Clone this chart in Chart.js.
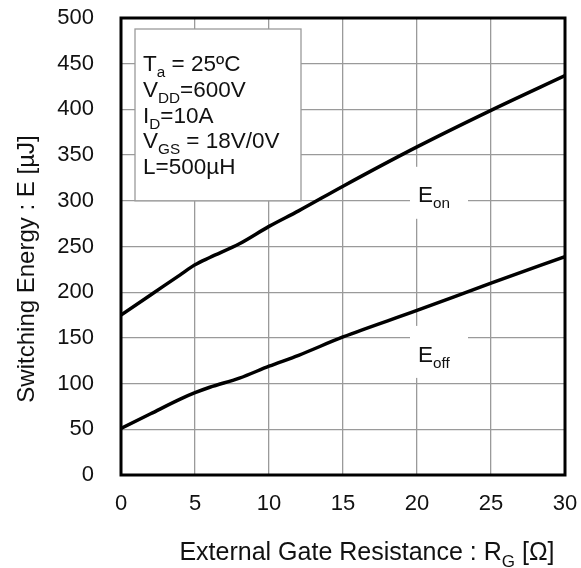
<!DOCTYPE html>
<html>
<head>
<meta charset="utf-8">
<script src="https://cdn.jsdelivr.net/npm/chart.js@4/dist/chart.umd.min.js"></script>
<style>
  body { margin: 0; background: #fff; }
  canvas { display: block; }
</style>
</head>
<body>
<canvas id="myChart" width="581" height="568"></canvas>
<script>
// gate resistance [ohm] and switching energies [uJ]
const rg = [0, 2, 4, 5, 6, 8, 10, 12, 15, 20, 25, 30];
const eOn = [175, 197, 219, 230, 238, 253, 272, 289, 316, 359, 399, 437];
const eOff = [51, 67, 83, 90, 96, 106, 119, 131, 151, 180, 210, 239];

const xTicks = [0, 5, 10, 15, 20, 25, 30];
const yTicks = [0, 50, 100, 150, 200, 250, 300, 350, 400, 450, 500];

const FONT = "'Liberation Sans', Arial, sans-serif";
const GRID = "#9a9a9a";

// text made of [string, isSubscript] parts
function richWidth(ctx, parts, size) {
    let w = 0;
    parts.forEach(p => {
        ctx.font = (p[1] ? size * 0.68 : size) + "px " + FONT;
        w += ctx.measureText(p[0]).width;
    });
    return w;
}

function drawRich(ctx, parts, x, y, size) {
    ctx.textAlign = "left";
    ctx.textBaseline = "alphabetic";
    parts.forEach(p => {
        ctx.font = (p[1] ? size * 0.68 : size) + "px " + FONT;
        ctx.fillText(p[0], x, p[1] ? y + size * 0.27 : y);
        x += ctx.measureText(p[0]).width;
    });
}

const conditions = [
    [["T", 0], ["a", 1], [" = 25ºC", 0]],
    [["V", 0], ["DD", 1], ["=600V", 0]],
    [["I", 0], ["D", 1], ["=10A", 0]],
    [["V", 0], ["GS", 1], [" = 18V/0V", 0]],
    [["L=500µH", 0]]
];

const decorPlugin = {
    id: "decor",
    beforeDatasetsDraw(chart) {
        const ctx = chart.ctx;
        const xs = chart.scales.x;
        const ys = chart.scales.y;
        ctx.save();

        // conditions box
        const bx = chart.chartArea.left + 14, by = chart.chartArea.top + 11;
        const bw = 166, bh = ys.getPixelForValue(300) - by;
        ctx.fillStyle = "#fff";
        ctx.fillRect(bx, by, bw, bh);
        ctx.strokeStyle = GRID;
        ctx.lineWidth = 1.3;
        ctx.strokeRect(bx, by, bw, bh);
        ctx.fillStyle = "#111";
        conditions.forEach((line, i) => {
            drawRich(ctx, line, bx + 8, by + 42 + i * 25.8, 22.5);
        });

        // curve labels: text, y value of the gridline, box top / text baseline offsets
        [
            [[["E", 0], ["on", 1]], 300, -34, 1.5],
            [[["E", 0], ["off", 1]], 150, -12, 24]
        ].forEach(item => {
            const cx = xs.getPixelForValue(20);
            const cy = ys.getPixelForValue(item[1]);
            ctx.fillStyle = "#fff";
            ctx.fillRect(cx - 7, cy + item[2], 58, 52);
            ctx.fillStyle = "#111";
            drawRich(ctx, item[0], cx + 1, cy + item[3], 22.5);
        });
        ctx.restore();
    },
    afterDraw(chart) {
        const ctx = chart.ctx;
        const a = chart.chartArea;
        ctx.save();
        ctx.strokeStyle = "#000";
        ctx.lineWidth = 3;
        ctx.strokeRect(a.left, a.top, a.right - a.left, a.bottom - a.top);

        ctx.fillStyle = "#111";
        // x axis title
        const xt = [["External Gate Resistance : R", 0], ["G", 1], [" [Ω]", 0]];
        const w = richWidth(ctx, xt, 25);
        drawRich(ctx, xt, 367 - w / 2, 560, 25);

        // y axis title
        ctx.translate(27, 269);
        ctx.rotate(-Math.PI / 2);
        ctx.font = "24px " + FONT;
        ctx.textAlign = "center";
        ctx.textBaseline = "middle";
        ctx.fillText("Switching Energy : E [µJ]", 0, 0);
        ctx.restore();
    }
};

function toPoints(ys) {
    return rg.map((x, i) => ({ x: x, y: ys[i] }));
}

new Chart(document.getElementById("myChart"), {
    type: "line",
    data: {
        datasets: [
            {
                label: "Eon",
                data: toPoints(eOn),
                borderColor: "#000",
                borderWidth: 3.5,
                pointRadius: 0,
                cubicInterpolationMode: "monotone",
                fill: false
            },
            {
                label: "Eoff",
                data: toPoints(eOff),
                borderColor: "#000",
                borderWidth: 3.5,
                pointRadius: 0,
                cubicInterpolationMode: "monotone",
                fill: false
            }
        ]
    },
    options: {
        responsive: false,
        animation: false,
        devicePixelRatio: 1,
        layout: { padding: { left: 0, top: 18, right: 16, bottom: 0 } },
        plugins: {
            legend: { display: false },
            tooltip: { enabled: false }
        },
        scales: {
            x: {
                type: "linear",
                min: 0,
                max: 30,
                afterFit(scale) {
                    scale.height = 93;
                    scale.paddingLeft = 0;
                    scale.paddingRight = 0;
                },
                afterBuildTicks(scale) { scale.ticks = xTicks.map(v => ({ value: v })); },
                grid: { color: GRID, lineWidth: 1.3, drawTicks: false },
                border: { display: false },
                ticks: {
                    padding: 16,
                    color: "#111",
                    font: { family: FONT, size: 22 },
                    maxRotation: 0
                }
            },
            y: {
                type: "linear",
                min: 0,
                max: 500,
                afterFit(scale) {
                    scale.width = 121;
                    scale.paddingTop = 0;
                    scale.paddingBottom = 0;
                },
                afterBuildTicks(scale) { scale.ticks = yTicks.map(v => ({ value: v })); },
                grid: { color: GRID, lineWidth: 1.3, drawTicks: false },
                border: { display: false },
                ticks: {
                    padding: 27,
                    color: "#111",
                    font: { family: FONT, size: 22 }
                }
            }
        }
    },
    plugins: [decorPlugin]
});
</script>
</body>
</html>
